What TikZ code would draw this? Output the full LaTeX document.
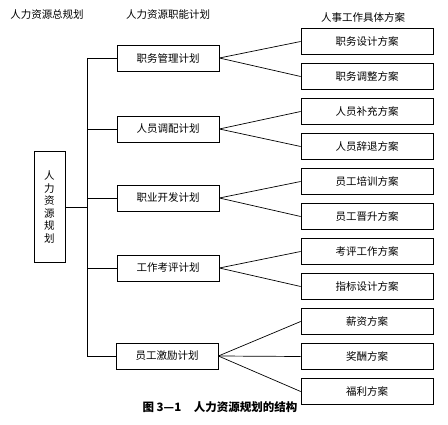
\documentclass[tikz,border=0pt]{standalone}
\usepackage{fontspec}
\setmainfont{Noto Sans CJK SC}
\usetikzlibrary{positioning}

\begin{document}
\begin{tikzpicture}[x=1pt, y=-1pt, line width=0.7pt,
    font=\fontsize{10.5}{12.6}\selectfont,
    mid/.style={draw, minimum width=102pt, minimum height=26pt, inner sep=0pt},
    sub/.style={draw, minimum width=132pt, minimum height=26pt, inner sep=0pt}]
        \useasboundingbox (0,0) rectangle (448,425);
        % column heads
        \node (h1) at (47,15) {人力资源总规划};
        \node (h2) at (168,15) {人力资源职能计划};
        \node (h3) at (363,17) {人事工作具体方案};
        % general plan
        \node (plan) [draw, minimum width=31pt, minimum height=111pt, align=center, inner sep=0pt] at (49.5,207)
            {人\\力\\资\\源\\规\\划};
        \coordinate (trunk) at (87,0);
        % functional plans
        \node (m1) [mid] at (168,58) {职务管理计划};
        \node (m2) [mid] at (168,129) {人员调配计划};
        \node (m3) [mid] at (168,198) {职业开发计划};
        \node (m4) [mid] at (168,268) {工作考评计划};
        \node (m5) [mid] at (167,356) {员工激励计划};
        % concrete schemes
        \foreach \t [count=\i] in {职务设计方案, 职务调整方案, 人员补充方案, 人员辞退方案,
                员工培训方案, 员工晋升方案, 考评工作方案, 指标设计方案, 薪资方案, 奖酬方案, 福利方案}
            \node (r\i) [sub] at (367,{6.5+35*\i}) {\t};
        % tree
        \draw (plan.east) -- (plan.east -| trunk);
        \draw (m1.west -| trunk) -- (m5.west -| trunk);
        \foreach \i in {1,...,5}
            \draw (m\i.west) -- (m\i.west -| trunk);
        \foreach \a/\b in {1/1, 1/2, 2/3, 2/4, 3/5, 3/6, 4/7, 4/8, 5/9, 5/10, 5/11}
            \draw (m\a.east) -- (r\b.west);
        % caption
        \node (cap) at (220,407) {\fontsize{11.5}{13}\selectfont\bfseries 图 3—1\hspace{1.1em}人力资源规划的结构};
    \end{tikzpicture}
\end{document}
